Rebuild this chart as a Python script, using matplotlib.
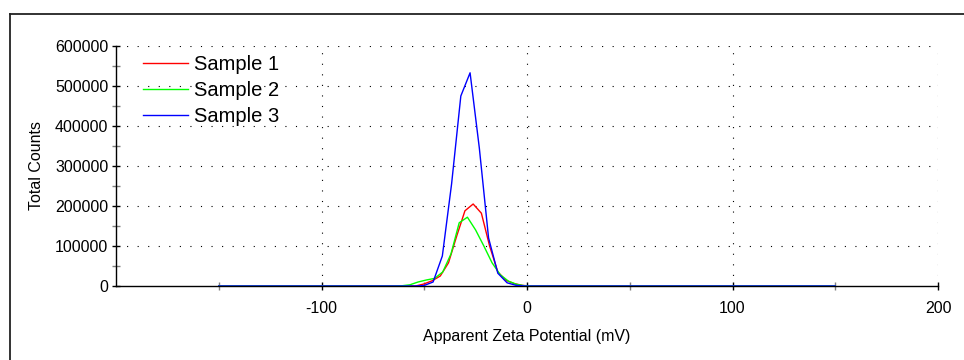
import matplotlib
matplotlib.use("Agg")
import matplotlib.pyplot as plt
from matplotlib.lines import Line2D
from matplotlib.ticker import MultipleLocator, FixedLocator, FuncFormatter

plt.rcParams['font.family'] = ['Liberation Sans', 'DejaVu Sans']
plt.rcParams['axes.unicode_minus'] = False

# ---- data ----
x_s1 = [-150, -54.2, -50.2, -46.2, -42.2, -38.2, -34.2, -30.2, -26.2, -22.2, -18.2, -14.2, -10.2, -6.2, -2.2, 1.8, 150]
y_s1 = [0, 0, 5000, 13000, 25000, 58000, 125000, 188000, 205000, 182000, 100000, 35000, 14000, 6000, 1500, 0, 0]

x_s2 = [-150, -65, -61, -57, -53, -49, -45, -41, -37, -33, -29, -25, -21, -17, -13, -9, -5, -1, 3, 150]
y_s2 = [0, 0, 500, 3000, 10000, 15000, 19000, 35000, 80000, 158000, 172000, 140000, 100000, 58000, 28000, 12000, 4000, 500, 0, 0]

x_s3 = [-150, -54.7, -50.2, -45.7, -41.2, -36.7, -32.2, -27.7, -23.2, -18.7, -14.2, -9.7, -5.2, -0.7, 150]
y_s3 = [0, 0, 1000, 10000, 75000, 255000, 475000, 533000, 345000, 120000, 32000, 8000, 1500, 0, 0]

series_labels = ["Sample 1", "Sample 2", "Sample 3"]
series_colors = ["#ff0000", "#00ff00", "#0000ff"]

x_major = [-100, 0, 100, 200]
y_major = [0, 100000, 200000, 300000, 400000, 500000, 600000]

W, H = 964, 360
fig = plt.figure(figsize=(W / 100, H / 100), dpi=100)
ax = fig.add_axes([116 / W, (H - 286) / H, 822 / W, 240 / H])

for xs, ys, lab, col in zip([x_s1, x_s2, x_s3], [y_s1, y_s2, y_s3], series_labels, series_colors):
    ax.plot(xs, ys, color=col, lw=1.0, label=lab, zorder=3)

ax.set_xlim(-200, 200)
ax.set_ylim(0, 600000)
ax.xaxis.set_major_locator(FixedLocator(x_major))
ax.xaxis.set_minor_locator(FixedLocator([-150, -50, 50, 150]))
ax.yaxis.set_major_locator(FixedLocator(y_major))
ax.yaxis.set_minor_locator(MultipleLocator(50000))
ax.yaxis.set_major_formatter(FuncFormatter(lambda v, p: f"{int(v)}"))

for s in ["top", "right"]:
    ax.spines[s].set_visible(False)
for s in ["left", "bottom"]:
    ax.spines[s].set_linewidth(1.0)
    ax.spines[s].set_color("black")

ax.tick_params(which="major", direction="inout", length=6, width=1, colors="black", labelsize=11.5)
ax.tick_params(which="minor", direction="inout", length=6, width=1, color="#808080")
ax.tick_params(axis="x", which="major", pad=8)
ax.tick_params(axis="y", which="major", pad=2.5)

dot = (0, (1, 8.5))
for xv in x_major:
    ax.axvline(xv, color="black", lw=0.8, ls=dot, zorder=1)
for yv in y_major[1:]:
    ax.axhline(yv, color="black", lw=0.8, ls=dot, zorder=1)

ax.set_xlabel("Apparent Zeta Potential (mV)", fontsize=11.5, labelpad=9.5)
ax.set_ylabel("Total Counts", fontsize=11.5, labelpad=8)

leg = ax.legend(loc="upper left", bbox_to_anchor=(27 / 822, 1 - 9 / 240), frameon=False,
                fontsize=14.5, handlelength=2.25, handletextpad=0.3, labelspacing=0.36,
                borderpad=0, borderaxespad=0)

# outer border (left and top edges visible)
fig.add_artist(Line2D([10 / W, 10 / W], [0, 1 - 14 / H], transform=fig.transFigure, color="#222222", lw=1.3))
fig.add_artist(Line2D([10 / W, 1], [1 - 14 / H, 1 - 14 / H], transform=fig.transFigure, color="#222222", lw=1.3))

fig.savefig("out.png", dpi=100)
